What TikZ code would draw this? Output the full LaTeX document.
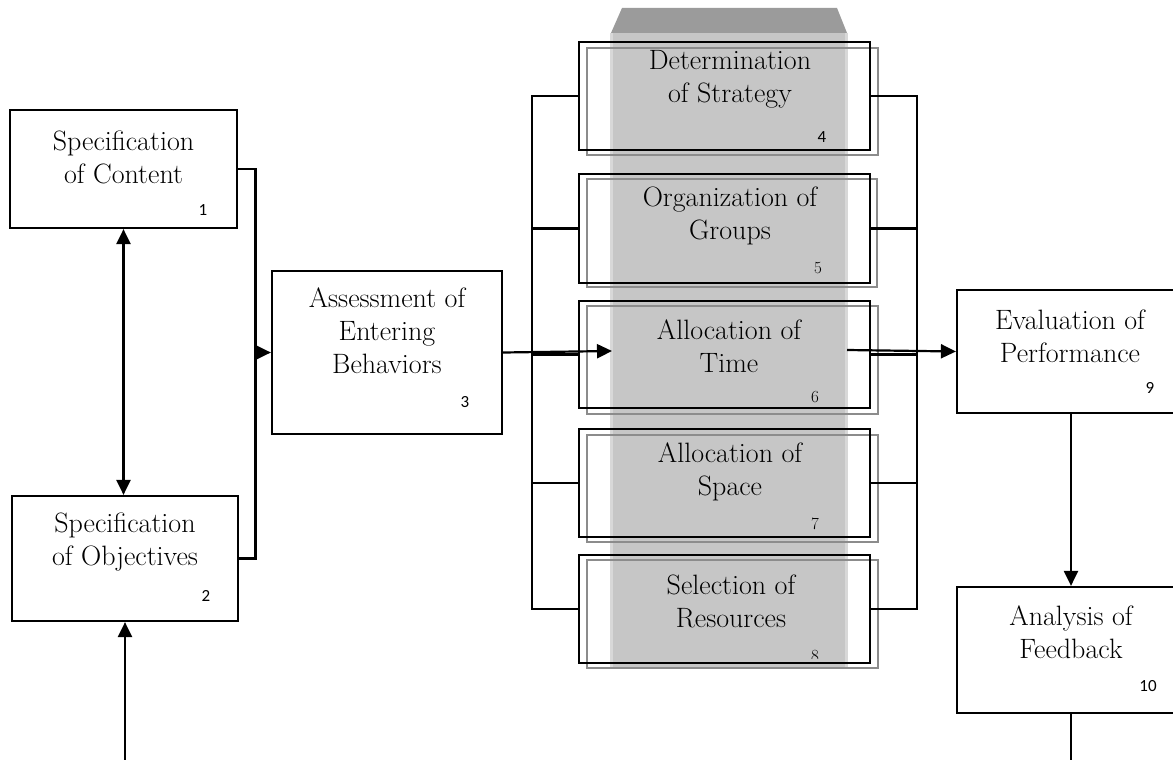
\documentclass[tikz,border=0pt]{standalone}
\usepackage{fontspec}
\newfontfamily\numfont{Carlito}
\usetikzlibrary{arrows.meta}
\definecolor{colbody}{HTML}{C6C6C6}
\definecolor{coledge}{HTML}{D8D8D8}
\definecolor{coltop}{HTML}{9B9B9B}
\definecolor{shadegray}{HTML}{8C8C8C}
\tikzset{
  blk/.style={draw=black,line width=2.2pt,inner sep=0pt},
  shd/.style={draw=shadegray,line width=2pt,inner sep=0pt},
  lbl/.style={align=center,font=\fontsize{28}{33}\selectfont,inner sep=0pt},
  sn/.style={font=\numfont\fontsize{17}{17}\selectfont,inner sep=0pt},
  rn/.style={font=\fontsize{17}{17}\selectfont,inner sep=0pt},
  wire/.style={line width=2.2pt},
  tipA/.tip={Triangle[length=15pt,width=14pt]},
  arr/.style={wire,-tipA},
}
\begin{document}
\begin{tikzpicture}[x=1pt,y=-1pt]
\clip (0,0) rectangle (1173,760);
\fill[white] (0,0) rectangle (1173,760);

% shaded column behind the middle stack
\fill[coltop] (622,8) -- (837,8) -- (847,33) -- (611,33) -- cycle;
\fill[coledge] (610,33) rectangle (848,667);
\fill[colbody] (613,33) rectangle (845,667);

% left-hand boxes
\node[blk,minimum width=227pt,minimum height=118pt] (b1) at (123.5,169) {};
\node[blk,minimum width=226pt,minimum height=125pt] (b2) at (125,558.5) {};
\node[blk,minimum width=230pt,minimum height=163pt] (b3) at (387,352.5) {};

% middle stack: shadow frame, then black frame
\node[shd,minimum width=291pt,minimum height=107pt] (s4) at (732.5,101.5) {};
\node[shd,minimum width=290pt,minimum height=108pt] (s5) at (732,233) {};
\node[shd,minimum width=291pt,minimum height=108pt] (s6) at (732.5,360) {};
\node[shd,minimum width=291pt,minimum height=107pt] (s7) at (732.5,488.5) {};
\node[shd,minimum width=291pt,minimum height=108pt] (s8) at (732.5,614) {};
\node[blk,minimum width=291pt,minimum height=108pt] (b4) at (724.5,96) {};
\node[blk,minimum width=291pt,minimum height=109pt] (b5) at (724.5,228.5) {};
\node[blk,minimum width=291pt,minimum height=107pt] (b6) at (724.5,354.5) {};
\node[blk,minimum width=291pt,minimum height=108pt] (b7) at (724.5,483) {};
\node[blk,minimum width=291pt,minimum height=108pt] (b8) at (724.5,609) {};

% right-hand boxes
\node[blk,minimum width=228pt,minimum height=123pt] (b9) at (1071,351.5) {};
\node[blk,minimum width=228pt,minimum height=126pt] (b10) at (1071,650) {};

% box texts
\node[lbl] (t1) at (123.5,157) {Specification\\of Content};
\node[lbl] (t2) at (125,542) {Specification\\of Objectives};
\node[lbl] (t3) at (387,331) {Assessment of\\Entering\\Behaviors};
\node[lbl] (t4) at (730,79) {Determination\\of Strategy};
\node[lbl] (t5) at (730,216) {Organization of\\Groups};
\node[lbl] (t6) at (729,346) {Allocation of\\Time};
\node[lbl] (t7) at (730,472) {Allocation of\\Space};
\node[lbl] (t8) at (731,601) {Selection of\\Resources};
\node[lbl] (t9) at (1070,336) {Evaluation of\\Performance};
\node[lbl] (t10) at (1071,632) {Analysis of\\Feedback};

% box numbers
\node[sn] (n1) at (203,210) {1};
\node[sn] (n2) at (206,596) {2};
\node[sn] (n3) at (465,402) {3};
\node[sn] (n4) at (822,137) {4};
\node[rn] (n5) at (818,268) {5};
\node[rn] (n6) at (815,397) {6};
\node[rn] (n7) at (815,524) {7};
\begin{scope}
  \clip (790,630) rectangle (840,658);
  \node[rn] (n8) at (815,656) {8};
\end{scope}
\node[sn] (n9) at (1150,388) {9};
\node[sn] (n10) at (1148,686) {10};

% joining points
\coordinate (jx) at (255.5,0);
\coordinate (lx) at (532,0);
\coordinate (rx) at (917,0);
\coordinate (in6) at (612,351);
\coordinate (out6) at (847,350);
\coordinate (bot2) at (125,760);
\coordinate (bot10) at (1071,760);

% connectors on the left
\draw[wire] (b1.east) -- (b1.east -| jx) -- (b2.east -| jx) -- (b2.east);
\draw[arr] (b3.west -| jx) -- (b3.west);
\draw[wire,tipA-tipA] (b1.south) -- (b1.south |- b2.north);
\draw[arr] (bot2) -- (b2.south);

% brackets round the middle stack
\draw[wire] (b4.west) -- (b4.west -| lx) -- (b8.west -| lx) -- (b8.west);
\draw[wire] (b5.west) -- (b5.west -| lx);
\draw[wire] (b6.west) -- (b6.west -| lx);
\draw[wire] (b7.west) -- (b7.west -| lx);
\draw[wire] (b4.east) -- (b4.east -| rx) -- (b8.east -| rx) -- (b8.east);
\draw[wire] (b5.east) -- (b5.east -| rx);
\draw[wire] (b6.east) -- (b6.east -| rx);
\draw[wire] (b7.east) -- (b7.east -| rx);

% flow through the middle and down the right
\draw[arr] (b3.east) -- (in6);
\draw[arr] (out6) -- (b9.west);
\draw[arr] (b9.south) -- (b10.north);
\draw[wire] (b10.south) -- (bot10);
\end{tikzpicture}
\end{document}
